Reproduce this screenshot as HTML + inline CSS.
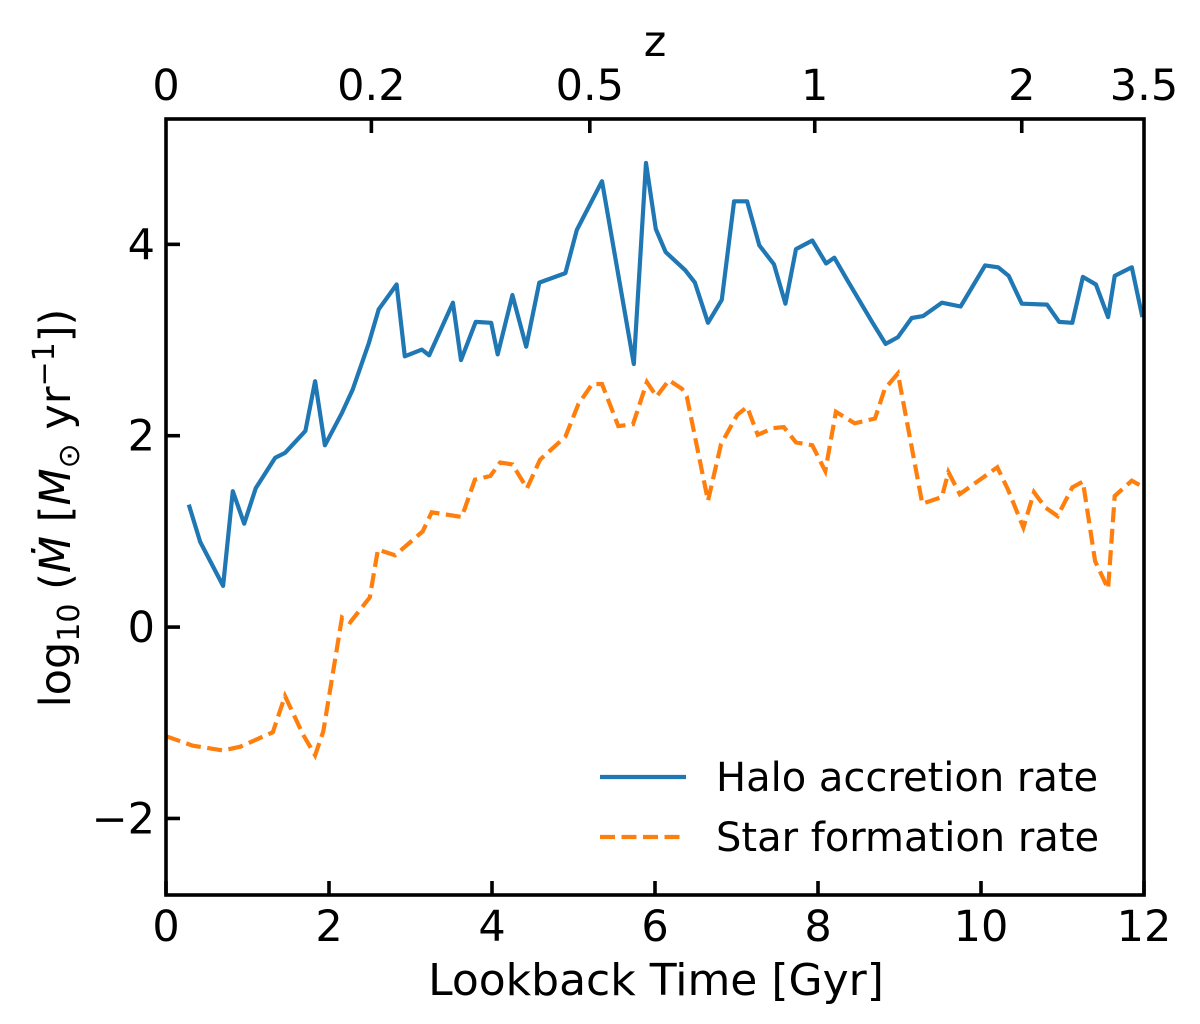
<!DOCTYPE html>
<html><head><meta charset="utf-8"><style>
html,body{margin:0;padding:0;background:#fff;}
svg{display:block;font-family:"DejaVu Sans","Liberation Sans",sans-serif;}
</style></head><body>
<svg id="chart" width="1200" height="1024" viewBox="0 0 1200 1024" xmlns="http://www.w3.org/2000/svg">
<g id="plot"></g>
</svg>
<script>
const haloT=[0.28,0.42,0.70,0.82,0.96,1.10,1.34,1.46,1.71,1.83,1.95,2.16,2.29,2.49,2.61,2.83,2.93,3.14,3.23,3.52,3.62,3.80,3.99,4.07,4.25,4.42,4.58,4.90,5.04,5.35,5.74,5.89,6.01,6.13,6.37,6.49,6.65,6.82,6.97,7.13,7.28,7.46,7.60,7.73,7.93,8.10,8.20,8.37,8.67,8.83,8.98,9.15,9.29,9.52,9.75,10.05,10.21,10.34,10.50,10.81,10.96,11.12,11.25,11.41,11.56,11.64,11.85,11.98];
const haloRate=[1.28,0.89,0.43,1.42,1.08,1.45,1.77,1.82,2.05,2.57,1.90,2.24,2.48,2.97,3.32,3.58,2.83,2.90,2.84,3.39,2.79,3.19,3.18,2.85,3.47,2.93,3.60,3.70,4.15,4.66,2.75,4.85,4.16,3.92,3.73,3.60,3.18,3.42,4.45,4.45,3.99,3.79,3.38,3.95,4.04,3.80,3.86,3.61,3.18,2.96,3.03,3.23,3.25,3.39,3.35,3.78,3.76,3.67,3.38,3.37,3.19,3.18,3.66,3.58,3.24,3.67,3.76,3.24];
const sfrT=[0.0,0.33,0.70,0.91,1.31,1.46,1.68,1.83,1.93,2.16,2.26,2.50,2.60,2.81,3.15,3.26,3.63,3.79,3.98,4.10,4.25,4.43,4.59,4.90,5.06,5.23,5.35,5.55,5.73,5.90,6.02,6.17,6.33,6.39,6.65,6.81,7.01,7.13,7.26,7.45,7.58,7.73,7.93,8.09,8.22,8.45,8.70,8.82,8.98,9.28,9.52,9.60,9.74,10.20,10.33,10.52,10.65,10.79,10.94,11.12,11.25,11.40,11.56,11.64,11.85,12.0];
const sfrRate=[-1.14,-1.24,-1.29,-1.25,-1.10,-0.72,-1.12,-1.34,-1.09,0.10,0.05,0.31,0.81,0.75,1.00,1.20,1.15,1.54,1.58,1.72,1.70,1.45,1.75,1.99,2.33,2.54,2.54,2.10,2.12,2.56,2.41,2.58,2.49,2.41,1.32,1.91,2.22,2.30,2.01,2.08,2.09,1.93,1.90,1.63,2.25,2.13,2.18,2.49,2.65,1.29,1.36,1.62,1.39,1.67,1.44,1.04,1.41,1.25,1.16,1.46,1.52,0.69,0.40,1.37,1.53,1.46];
const xTicks=[0,2,4,6,8,10,12];
const yTicks=[-2,0,2,4];
const yTickLabels=["\u22122","0","2","4"];
const zTickT=[0,2.52,5.20,7.96,10.50,12];
const zTickLabels=["0","0.2","0.5","1","2","3.5"];

const L=166,R=1144,T=119,B=895,XMIN=0,XMAX=12,YMIN=-2.80,YMAX=5.31;
const sx=v=>L+(v-XMIN)/(XMAX-XMIN)*(R-L);
const sy=v=>B-(v-YMIN)/(YMAX-YMIN)*(B-T);
const NS="http://www.w3.org/2000/svg";
const g=document.getElementById('plot');
function mk(tag,attrs,parent){const e=document.createElementNS(NS,tag);for(const k in attrs)e.setAttribute(k,attrs[k]);(parent||g).appendChild(e);return e;}

let d=haloT.map((t,i)=>(i?'L':'M')+sx(t).toFixed(1)+','+sy(haloRate[i]).toFixed(1)).join('');
const halo=mk('path',{d:d,fill:'none',stroke:'#1f77b4','stroke-width':4.2,'stroke-linejoin':'round'});


d=sfrT.map((t,i)=>(i?'L':'M')+sx(t).toFixed(1)+','+sy(sfrRate[i]).toFixed(1)).join('');
const sfr=mk('path',{d:d,fill:'none',stroke:'#ff7f0e','stroke-width':4.2,'stroke-dasharray':'15 6.5'});



const frame=mk('rect',{x:L,y:T,width:R-L,height:B-T,fill:'none',stroke:'#000','stroke-width':3.6});



xTicks.forEach(v=>{
  const x=sx(v);
  mk('line',{x1:x,x2:x,y1:B,y2:B-14,stroke:'#000','stroke-width':3.6});
  const t=mk('text',{x:x,y:941,'font-size':43,'text-anchor':'middle'});t.textContent=v;
  
  
});
yTicks.forEach((v,i)=>{
  const y=sy(v);
  mk('line',{x1:L,x2:L+14,y1:y,y2:y,stroke:'#000','stroke-width':3.6});
  const t=mk('text',{x:155,y:y+15,'font-size':43,'text-anchor':'end'});t.textContent=yTickLabels[i];
  
  
});
zTickT.forEach((v,i)=>{
  const x=sx(v);
  if(i>0&&i<zTickT.length-1) mk('line',{x1:x,x2:x,y1:T,y2:T+14,stroke:'#000','stroke-width':3.6});
  const t=mk('text',{x:x,y:100,'font-size':43,'text-anchor':'middle'});t.textContent=zTickLabels[i];
  
  
});
</script>
<svg style="position:absolute;left:0;top:0" width="1200" height="1024" xmlns="http://www.w3.org/2000/svg" font-family="DejaVu Sans, Liberation Sans, sans-serif">
<text x="655" y="56" font-size="43" text-anchor="middle">z</text>
<text x="656" y="995" font-size="44" text-anchor="middle">Lookback Time [Gyr]</text>
<text transform="translate(70,508) rotate(-90)" font-size="43" text-anchor="middle">log<tspan font-size="30" dy="9">10</tspan><tspan dy="-9"> (</tspan><tspan font-style="italic">Ṁ</tspan> [<tspan font-style="italic">M</tspan><tspan font-size="30" dy="9">⊙</tspan><tspan dy="-9"> yr</tspan><tspan font-size="30" dy="-16">−1</tspan><tspan dy="16">])</tspan></text>
<g>
<line x1="600" x2="686" y1="777" y2="777" stroke="#1f77b4" stroke-width="4.2"/>
<text x="716" y="791" font-size="40">Halo accretion rate</text>
<line x1="600" x2="686" y1="837" y2="837" stroke="#ff7f0e" stroke-width="4.2" stroke-dasharray="15 6.5"/>
<text x="716" y="851" font-size="40">Star formation rate</text>
</g>
</svg>
</body></html>
